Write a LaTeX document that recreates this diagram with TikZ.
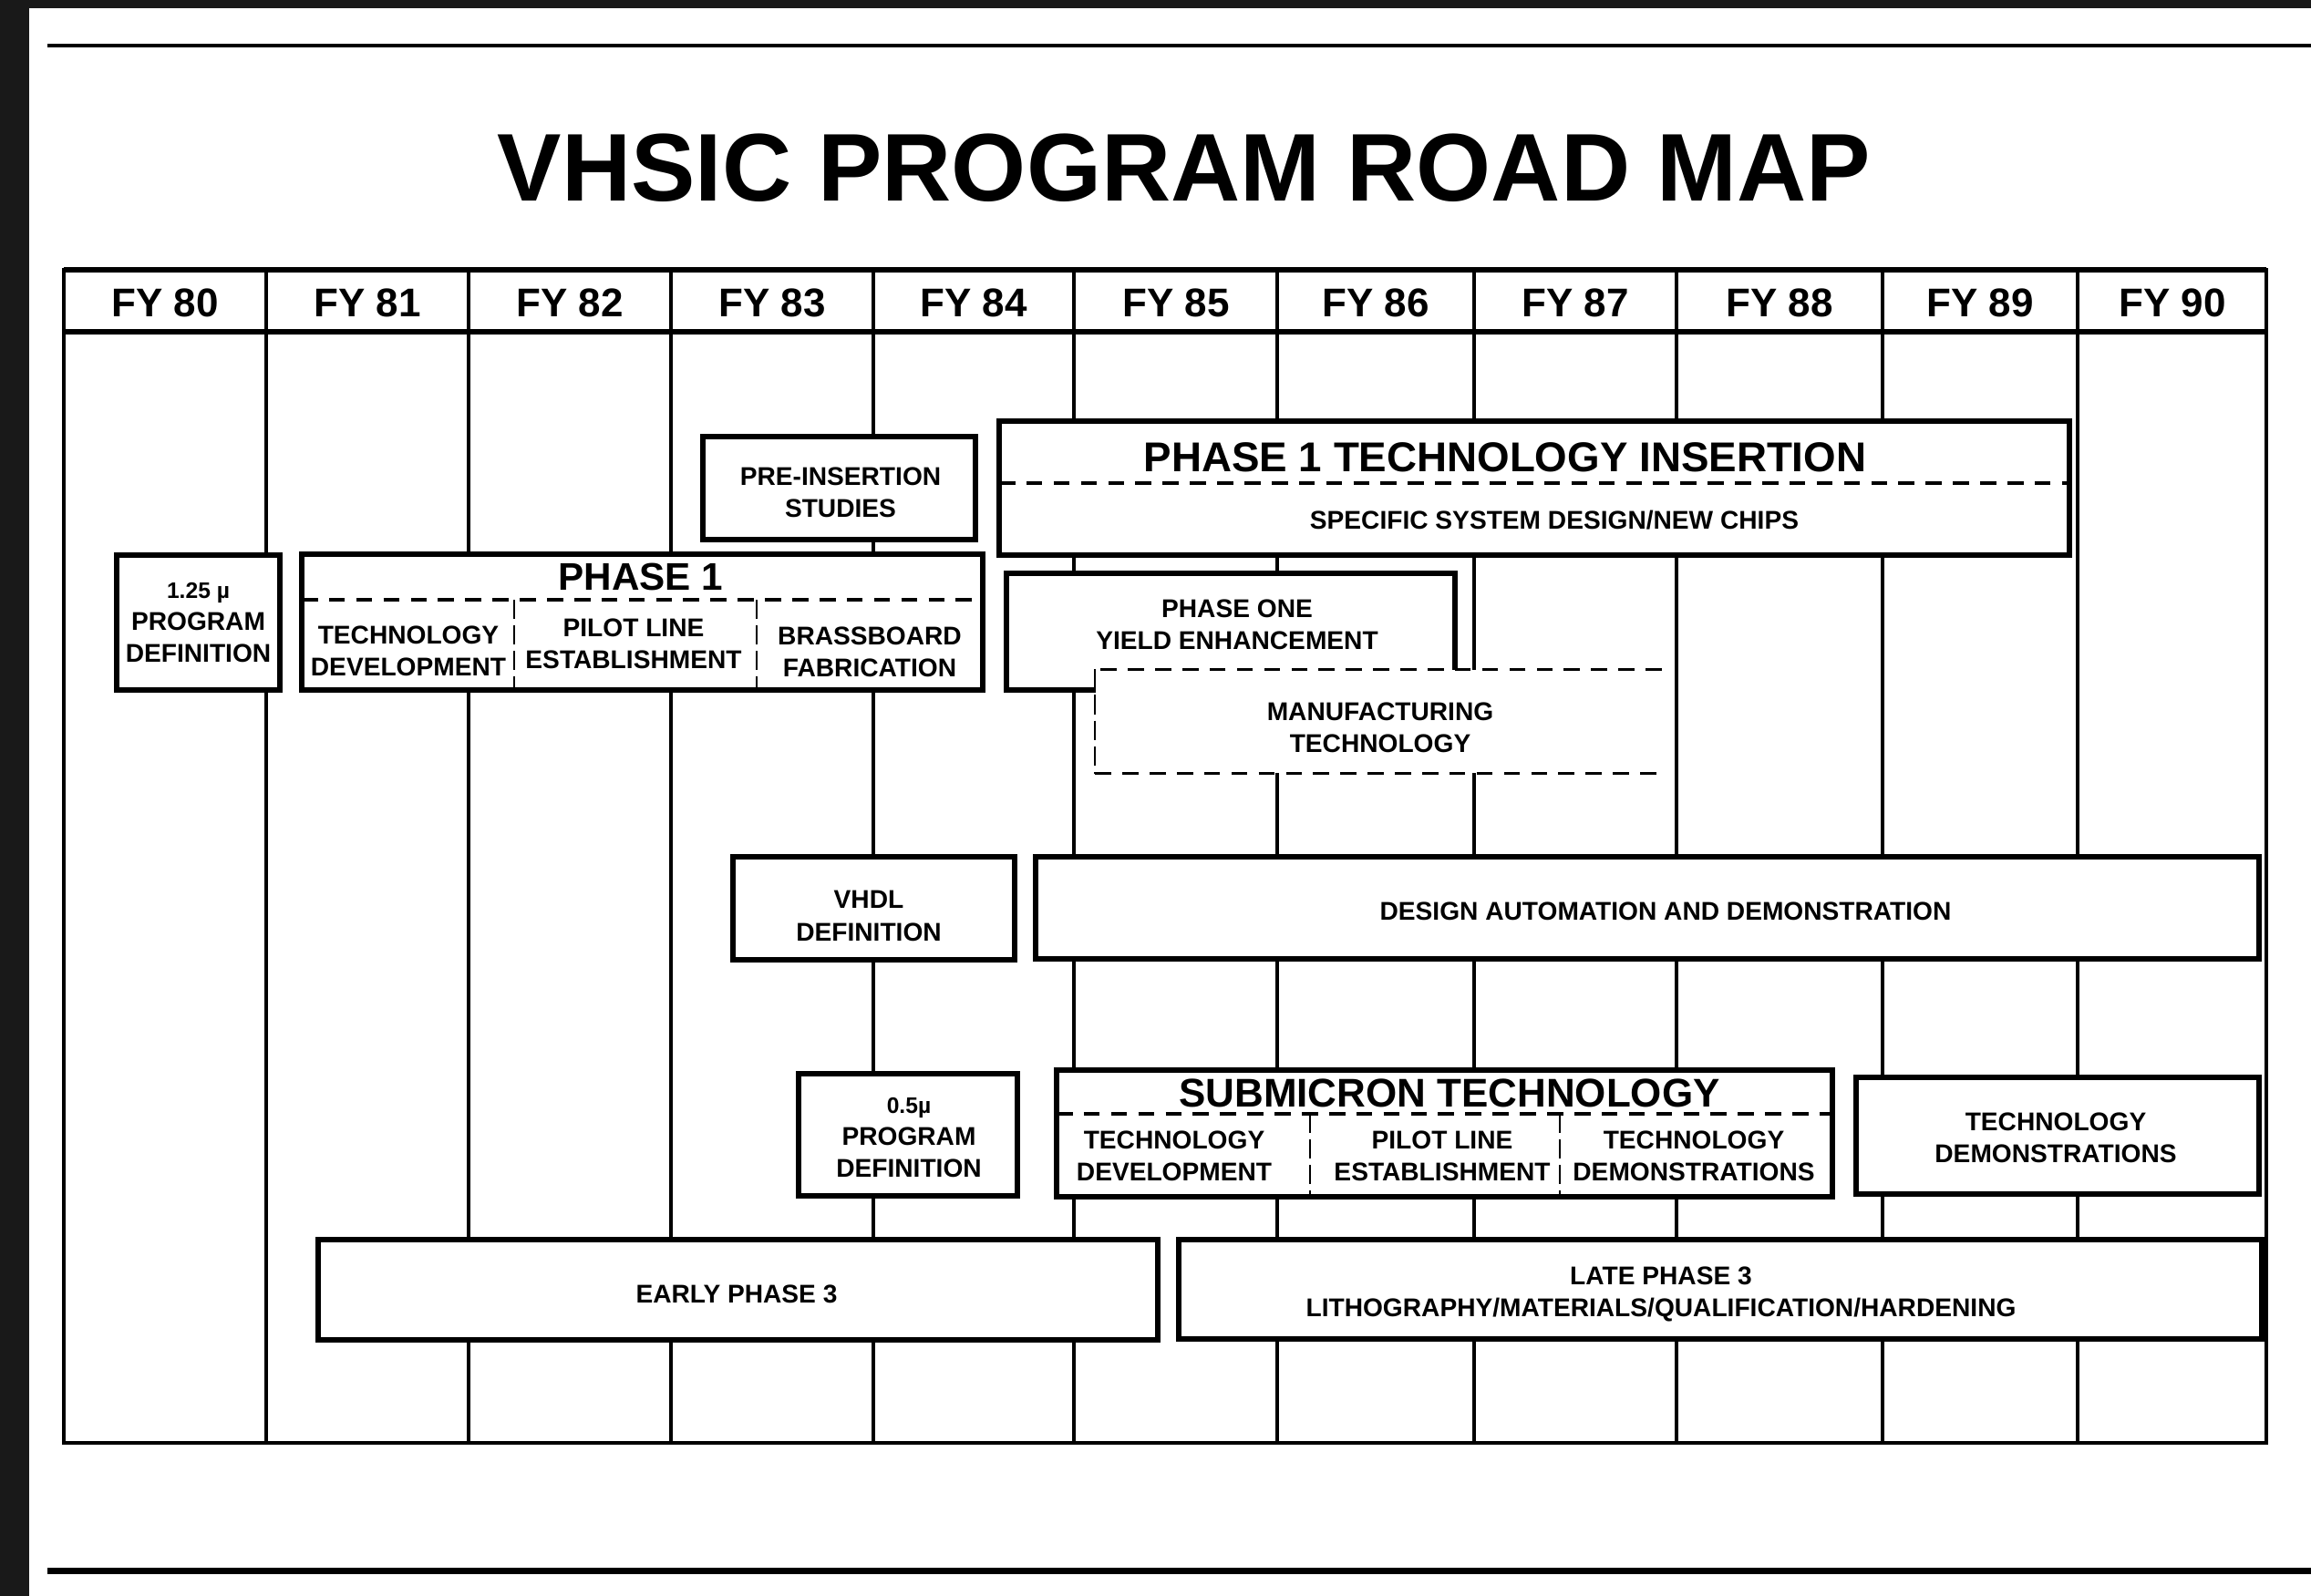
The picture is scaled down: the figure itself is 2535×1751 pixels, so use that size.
\documentclass[tikz,border=0pt]{standalone}
\usepackage{fontspec}
\setmainfont{Liberation Sans}
\usetikzlibrary{fit}
\begin{document}
\begin{tikzpicture}[x=0.01cm, y=-0.01cm,
  box/.style={draw, line width=1.5pt, fill=white, inner sep=0pt},
  lbl/.style={font=\bfseries\fontsize{8}{10}\selectfont, align=center, inner sep=0pt},
  bigl/.style={font=\bfseries\fontsize{12.5}{14}\selectfont, inner sep=0pt},
  hdr/.style={font=\bfseries\fontsize{12.5}{14}\selectfont, inner sep=0pt},
  colline/.style={line width=1pt},
  dsh/.style={line width=0.9pt, dash pattern=on 5pt off 3.5pt},
  vdsh/.style={line width=0.6pt, dash pattern=on 6pt off 2pt}]
\useasboundingbox (0,0) rectangle (2535,1751);
\fill[white] (0,0) rectangle (2535,1751);
% scan borders
\fill[black!90] (0,0) rectangle (32,1751);
\fill[black!90] (0,0) rectangle (2535,9);
% rules
\draw[line width=1.4pt] (52,50) -- (2535,50);
\draw[line width=2pt] (52,1723) -- (2535,1723);
% title
\node[font=\bfseries\fontsize{30}{34}\selectfont, anchor=base, inner sep=0pt] (title) at (1299,220) {VHSIC PROGRAM ROAD MAP};
% table
\foreach \x in {292,514,736,958,1178,1401,1617,1839,2065,2279}
  \draw[colline] (\x,296) -- (\x,1583);
\draw[line width=1.3pt] (70,296) rectangle (2486,1583);
\draw[line width=1.7pt] (70,296) -- (2486,296);
\draw[line width=1.7pt] (70,364) -- (2486,364);
\foreach \l/\c [count=\i] in {80/181,81/403,82/625,83/847,84/1068,85/1290,86/1509,87/1728,88/1952,89/2172,90/2383}
  \node[hdr, anchor=base] (fy\i) at (\c,347) {FY \l};
% 1.25 micron
\node[box, fit={(128,609) (307,757)}] (b125) {};
\node[lbl] (t125) at (b125.center) {{\fontsize{7}{10}\selectfont 1.25 µ}\\PROGRAM\\DEFINITION};
% Phase 1
\node[box, fit={(331,608) (1078,757)}] (p1) {};
\draw[dsh] (331,658) -- (1078,658);
\draw[vdsh] (564,658) -- (564,757);
\draw[vdsh] (830,658) -- (830,757);
\node[bigl, font=\bfseries\fontsize{12}{14}\selectfont] (p1t) at (703,633) {PHASE 1};
\node[lbl] (p1a) at (448,714) {TECHNOLOGY\\DEVELOPMENT};
\node[lbl] (p1b) at (695,706) {PILOT LINE\\ESTABLISHMENT};
\node[lbl] (p1c) at (954,715) {BRASSBOARD\\FABRICATION};
% pre-insertion
\node[box, fit={(771,479) (1070,592)}] (pre) {};
\node[lbl] (pret) at (922,540) {PRE-INSERTION\\STUDIES};
% Phase 1 technology insertion
\node[box, fit={(1096,462) (2270,609)}] (p1ti) {};
\draw[dsh] (1096,530) -- (2270,530);
\node[bigl, font=\bfseries\fontsize{13}{15}\selectfont] (p1tit) at (1651,502) {PHASE 1 TECHNOLOGY INSERTION};
\node[lbl] (p1tis) at (1705,571) {SPECIFIC SYSTEM DESIGN/NEW CHIPS};
% yield
\node[box, fit={(1104,629) (1596,757)}] (yield) {};
\node[lbl] (yieldt) at (1357,685) {PHASE ONE\\YIELD ENHANCEMENT};
% manufacturing technology
\node[fill=white, inner sep=0pt, fit={(1202,735) (1822,848)}] (mfg) {};
\draw[dsh] (mfg.north east) -- (mfg.north west);
\draw[vdsh] (mfg.north west) -- (mfg.south west);
\draw[dsh] (mfg.south west) -- (mfg.south east);
\node[lbl] (mfgt) at (1514,798) {MANUFACTURING\\TECHNOLOGY};
% VHDL
\node[box, fit={(804,940) (1113,1053)}] (vhdl) {};
\node[lbl] (vhdlt) at (953,1005) {VHDL\\DEFINITION};
% design automation
\node[box, fit={(1136,940) (2478,1052)}] (da) {};
\node[lbl] (dat) at (1827,1000) {DESIGN AUTOMATION AND DEMONSTRATION};
% 0.5 micron
\node[box, fit={(876,1178) (1116,1312)}] (b05) {};
\node[lbl] (t05) at (997,1248) {{\fontsize{7}{10}\selectfont 0.5µ}\\PROGRAM\\DEFINITION};
% submicron
\node[box, fit={(1159,1174) (2010,1313)}] (sub) {};
\draw[dsh] (1159,1222) -- (2010,1222);
\draw[vdsh] (1437,1222) -- (1437,1313);
\draw[vdsh] (1711,1222) -- (1711,1313);
\node[bigl, anchor=base] (subt) at (1590,1214) {SUBMICRON TECHNOLOGY};
\node[lbl] (suba) at (1288,1268) {TECHNOLOGY\\DEVELOPMENT};
\node[lbl] (subb) at (1582,1268) {PILOT LINE\\ESTABLISHMENT};
\node[lbl] (subc) at (1858,1268) {TECHNOLOGY\\DEMONSTRATIONS};
% technology demonstrations
\node[box, fit={(2036,1182) (2478,1310)}] (td) {};
\node[lbl] (tdt) at (2255,1248) {TECHNOLOGY\\DEMONSTRATIONS};
% early phase 3
\node[box, fit={(349,1360) (1270,1470)}] (early) {};
\node[lbl] (earlyt) at (808,1420) {EARLY PHASE 3};
% late phase 3
\node[box, fit={(1293,1360) (2481,1469)}] (late) {};
\node[lbl] (latet) at (1822,1420) {LATE PHASE 3\\LITHOGRAPHY/MATERIALS/QUALIFICATION/HARDENING};
\end{tikzpicture}
\end{document}
